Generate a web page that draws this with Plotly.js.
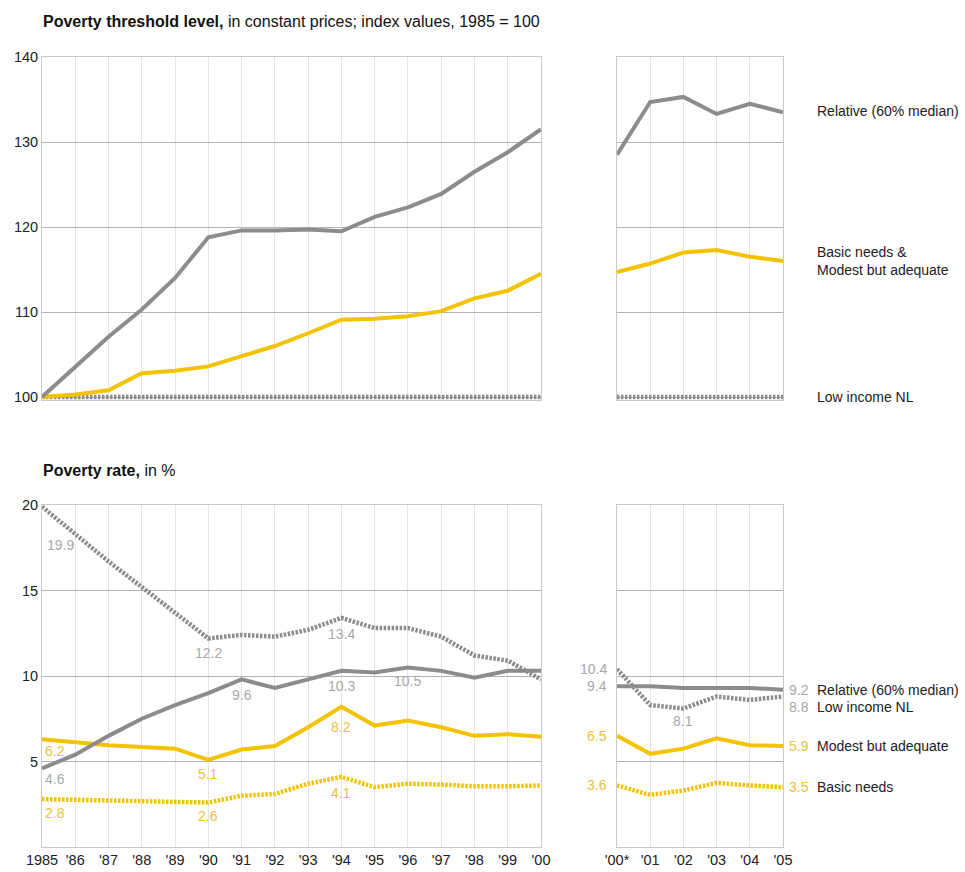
<!DOCTYPE html>
<html><head><meta charset="utf-8">
<script src="https://cdn.plot.ly/plotly-3.0.1.min.js"></script>
<style>html,body{margin:0;padding:0;background:#fff}</style>
</head><body><div id="chart" style="width:965px;height:872px"></div>
<script>
// ---------- data ----------
const yearsA = [1985,1986,1987,1988,1989,1990,1991,1992,1993,1994,1995,1996,1997,1998,1999,2000];
const yearTicksA = ['1985',"'86","'87","'88","'89","'90","'91","'92","'93","'94","'95","'96","'97","'98","'99","'00"];
const yearsB = [0,1,2,3,4,5];
const yearTicksB = ["'00*","'01","'02","'03","'04","'05"];

// Poverty threshold level (index, 1985 = 100)
const thrRelativeA     = [100,103.6,107.1,110.3,114.0,118.8,119.6,119.6,119.7,119.5,121.2,122.3,123.9,126.5,128.8,131.5];
const thrBasicModestA  = [100,100.3,100.8,102.8,103.1,103.6,104.8,106.0,107.5,109.1,109.2,109.5,110.1,111.6,112.5,114.5];
const thrLowIncomeA    = [100,100,100,100,100,100,100,100,100,100,100,100,100,100,100,100];
const thrRelativeB     = [128.5,134.7,135.3,133.3,134.5,133.5];
const thrBasicModestB  = [114.7,115.7,117.0,117.3,116.5,116.0];
const thrLowIncomeB    = [100,100,100,100,100,100];

// Poverty rate (%)
const rateLowIncomeA = [19.9,18.3,16.7,15.2,13.7,12.2,12.4,12.3,12.7,13.4,12.8,12.8,12.3,11.2,10.9,9.8];
const rateRelativeA  = [4.6,5.4,6.5,7.5,8.3,9.0,9.8,9.3,9.8,10.3,10.2,10.5,10.3,9.9,10.3,10.3];
const rateModestA    = [6.3,6.1,5.95,5.85,5.75,5.1,5.7,5.9,7.0,8.2,7.1,7.4,7.0,6.5,6.6,6.45];
const rateBasicA     = [2.8,2.75,2.75,2.7,2.65,2.6,3.0,3.1,3.7,4.1,3.5,3.7,3.65,3.55,3.55,3.6];
const rateRelativeB  = [9.4,9.4,9.3,9.3,9.3,9.2];
const rateLowIncomeB = [10.4,8.3,8.1,8.8,8.6,8.8];
const rateModestB    = [6.5,5.45,5.75,6.35,5.95,5.9];
const rateBasicB     = [3.6,3.05,3.3,3.75,3.6,3.5];

const seriesNames = ['Relative (60% median)','Basic needs &<br>Modest but adequate','Low income NL','Modest but adequate','Basic needs'];

// value labels: [panel, x index, series, text]
const valueLabels = [
  ['A', 0, 'low', '19.9'], ['A', 0, 'rel', '4.6'], ['A', 0, 'mod', '6.2'], ['A', 0, 'bas', '2.8'],
  ['A', 5, 'low', '12.2'], ['A', 6, 'rel', '9.6'], ['A', 9, 'low', '13.4'], ['A', 9, 'rel', '10.3'],
  ['A', 11, 'rel', '10.5'], ['A', 9, 'mod', '8.2'], ['A', 5, 'mod', '5.1'], ['A', 9, 'bas', '4.1'],
  ['A', 5, 'bas', '2.6'],
  ['B', 0, 'low', '10.4'], ['B', 0, 'rel', '9.4'], ['B', 0, 'mod', '6.5'], ['B', 0, 'bas', '3.6'],
  ['B', 2, 'low', '8.1'],
  ['B', 5, 'rel', '9.2'], ['B', 5, 'low', '8.8'], ['B', 5, 'mod', '5.9'], ['B', 5, 'bas', '3.5']
];

// ---------- style ----------
const GREY = '#8c8c8c', YEL = '#f3c300';
const LGREY = '#a9a9a9', LYEL = '#e9c23c';
const FONT = 'Liberation Sans, Arial, Helvetica, sans-serif';
const W = 965, H = 872;
const px = v => v / W, py = v => 1 - v / H;

function tr(x, y, xa, ya, color, dotted) {
  return {x: x, y: y, xaxis: xa, yaxis: ya, type: 'scatter', mode: 'lines', hoverinfo: 'skip',
    line: {color: color, width: dotted ? 4.5 : 4, dash: dotted ? '2.5px,1.5px' : 'solid'}, showlegend: false};
}

const traces = [
  tr(yearsA, thrLowIncomeA, 'x', 'y', GREY, true),
  tr(yearsA, thrBasicModestA, 'x', 'y', YEL, false),
  tr(yearsA, thrRelativeA, 'x', 'y', GREY, false),
  tr(yearsB, thrLowIncomeB, 'x2', 'y2', GREY, true),
  tr(yearsB, thrBasicModestB, 'x2', 'y2', YEL, false),
  tr(yearsB, thrRelativeB, 'x2', 'y2', GREY, false),
  tr(yearsA, rateBasicA, 'x3', 'y3', YEL, true),
  tr(yearsA, rateModestA, 'x3', 'y3', YEL, false),
  tr(yearsA, rateRelativeA, 'x3', 'y3', GREY, false),
  tr(yearsA, rateLowIncomeA, 'x3', 'y3', GREY, true),
  tr(yearsB, rateBasicB, 'x4', 'y4', YEL, true),
  tr(yearsB, rateModestB, 'x4', 'y4', YEL, false),
  tr(yearsB, rateRelativeB, 'x4', 'y4', GREY, false),
  tr(yearsB, rateLowIncomeB, 'x4', 'y4', GREY, true)
];

// ---------- axes ----------
const xL = [px(42), px(541)], xR = [px(617), px(783)];
const yTop = [py(400.4), py(57)], yBot = [py(847), py(505)];
function xax(dom, vals, text, showLabels, anchor) {
  return {domain: dom, anchor: anchor, range: [vals[0], vals[vals.length - 1]], tickmode: 'array', tickvals: vals,
    ticktext: text, showticklabels: showLabels, showgrid: true, gridcolor: '#e4e4e4', gridwidth: 1,
    zeroline: false, showline: true, mirror: true, linecolor: '#c9c9c9', linewidth: 1, ticks: '',
    tickfont: {family: FONT, size: 14.5, color: '#222'}, fixedrange: true};
}
function yax(dom, range, vals, showLabels, anchor) {
  return {domain: dom, anchor: anchor, range: range, tickmode: 'array', tickvals: vals,
    showticklabels: showLabels, showgrid: true, gridcolor: '#b3b3b3', gridwidth: 1, zeroline: false,
    showline: true, mirror: true, linecolor: '#c9c9c9', linewidth: 1, ticks: '',
    tickfont: {family: FONT, size: 14.5, color: '#222'}, fixedrange: true};
}

const annotations = [];
function ann(xref, yref, x, y, text, color, opts) {
  annotations.push(Object.assign({xref: xref, yref: yref, x: x, y: y, text: text, showarrow: false,
    font: {family: FONT, size: 14, color: color}, xanchor: 'center', yanchor: 'middle'}, opts || {}));
}
// titles
annotations.push({xref: 'paper', yref: 'paper', x: px(41), y: py(21), xanchor: 'left', yanchor: 'middle', showarrow: false,
  text: '<b>Poverty threshold level,</b> in constant prices; index values, 1985 = 100', font: {family: FONT, size: 16, color: '#111'}});
annotations.push({xref: 'paper', yref: 'paper', x: px(41), y: py(470), xanchor: 'left', yanchor: 'middle', showarrow: false,
  text: '<b>Poverty rate,</b> in %', font: {family: FONT, size: 16, color: '#111'}});

// series labels on the right
const lx = px(815);
ann('paper', 'y2', lx, thrRelativeB[5] + 0.2, seriesNames[0], '#222', {xanchor: 'left'});
ann('paper', 'y2', lx, 116.0, seriesNames[1], '#222', {xanchor: 'left', align: 'left'});
ann('paper', 'y2', lx, 100, seriesNames[2], '#222', {xanchor: 'left'});
ann('paper', 'y4', lx, rateRelativeB[5], seriesNames[0], '#222', {xanchor: 'left'});
ann('paper', 'y4', lx, rateLowIncomeB[5], seriesNames[2], '#222', {xanchor: 'left', yshift: -10});
ann('paper', 'y4', lx, rateModestB[5], seriesNames[3], '#222', {xanchor: 'left'});
ann('paper', 'y4', lx, rateBasicB[5], seriesNames[4], '#222', {xanchor: 'left'});

// value labels
const seriesMap = {
  A: {low: rateLowIncomeA, rel: rateRelativeA, mod: rateModestA, bas: rateBasicA},
  B: {low: rateLowIncomeB, rel: rateRelativeB, mod: rateModestB, bas: rateBasicB}
};
const labelShift = {
  'A0low': [3, -38, 'left'], 'A0rel': [1, -11, 'left'], 'A0mod': [1, -12, 'left'], 'A0bas': [1, -14, 'left'],
  'A5low': [0, -15], 'A6rel': [0, -16], 'A9low': [0, -16], 'A9rel': [0, -15], 'A11rel': [0, -14],
  'A9mod': [0, -20], 'A5mod': [0, -14], 'A9bas': [0, -16], 'A5bas': [0, -13],
  'B0low': [-8, 0, 'right'], 'B0rel': [-8, 0, 'right'], 'B0mod': [-8, 0, 'right'], 'B0bas': [-8, 0, 'right'],
  'B2low': [0, -13],
  'B5rel': [4, 0, 'left'], 'B5low': [4, -10, 'left'], 'B5mod': [4, 0, 'left'], 'B5bas': [4, 0, 'left']
};
valueLabels.forEach(([p, i, s, t]) => {
  const key = p + i + s;
  const sh = labelShift[key] || [0, 0];
  const xs = p === 'A' ? yearsA : yearsB;
  const color = (s === 'mod' || s === 'bas') ? LYEL : LGREY;
  ann(p === 'A' ? 'x3' : 'x4', p === 'A' ? 'y3' : 'y4', xs[i], seriesMap[p][s][i], t, color,
    {xshift: sh[0], yshift: sh[1], xanchor: sh[2] || 'center'});
});

const layout = {
  width: W, height: H, margin: {l: 0, r: 0, t: 0, b: 0}, paper_bgcolor: '#fff', plot_bgcolor: '#fff',
  showlegend: false, font: {family: FONT},
  xaxis: xax(xL, yearsA, yearTicksA, false, 'y'),
  yaxis: yax(yTop, [99.6, 140], [100, 110, 120, 130, 140], true, 'x'),
  xaxis2: xax(xR, yearsB, yearTicksB, false, 'y2'),
  yaxis2: yax(yTop, [99.6, 140], [100, 110, 120, 130, 140], false, 'x2'),
  xaxis3: xax(xL, yearsA, yearTicksA, true, 'y3'),
  yaxis3: yax(yBot, [0, 20], [0, 5, 10, 15, 20], true, 'x3'),
  xaxis4: xax(xR, yearsB, yearTicksB, true, 'y4'),
  yaxis4: yax(yBot, [0, 20], [0, 5, 10, 15, 20], false, 'x4'),
  annotations: annotations
};
layout.yaxis3.ticktext = ['', '5', '10', '15', '20'];
Plotly.newPlot('chart', traces, layout, {staticPlot: true, displayModeBar: false});
</script></body></html>
